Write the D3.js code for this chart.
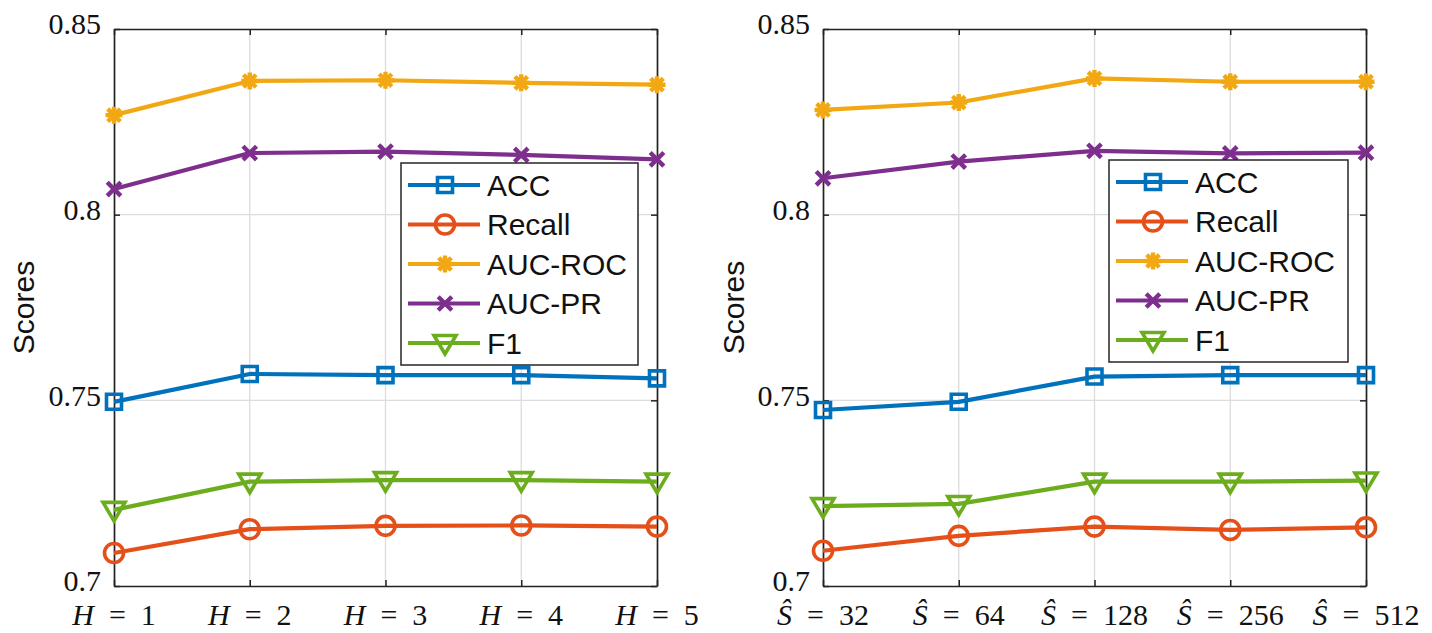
<!DOCTYPE html>
<html><head><meta charset="utf-8">
<script src="https://cdn.jsdelivr.net/npm/d3@7"></script>
<style>body{margin:0;background:#fff}</style></head>
<body><svg id="c" width="1432" height="633"></svg>
<script>
// ---------- data ----------
const seriesNames = ["ACC", "Recall", "AUC-ROC", "AUC-PR", "F1"];
const hValues = [1, 2, 3, 4, 5];
const sValues = [32, 64, 128, 256, 512];
const yTicks = [0.7, 0.75, 0.8, 0.85];
const yTickLabels = ["0.7", "0.75", "0.8", "0.85"];
const yLabel = "Scores";

const leftACC    = [0.7496, 0.7571, 0.7568, 0.7568, 0.7559];
const leftRecall = [0.7089, 0.7153, 0.7162, 0.7163, 0.7160];
const leftAUCROC = [0.8268, 0.8360, 0.8362, 0.8355, 0.8350];
const leftAUCPR  = [0.8069, 0.8166, 0.8170, 0.8161, 0.8149];
const leftF1     = [0.7205, 0.7281, 0.7285, 0.7285, 0.7281];

const rightACC    = [0.7474, 0.7496, 0.7564, 0.7568, 0.7568];
const rightRecall = [0.7095, 0.7135, 0.7160, 0.7151, 0.7158];
const rightAUCROC = [0.8282, 0.8302, 0.8367, 0.8358, 0.8358];
const rightAUCPR  = [0.8098, 0.8143, 0.8172, 0.8165, 0.8167];
const rightF1     = [0.7215, 0.7221, 0.7281, 0.7281, 0.7284];

// ---------- styles ----------
const colors = {"ACC":"#0072BD","Recall":"#E5501A","AUC-ROC":"#F2A812","AUC-PR":"#7E2F8E","F1":"#6CAD1E"};
const markerOf = {"ACC":"square","Recall":"circle","AUC-ROC":"asterisk","AUC-PR":"cross","F1":"triDown"};

function markerPath(type){
  switch(type){
    case "square": return "M-7.5,-7.5H7.5V7.5H-7.5Z";
    case "circle": return "M9.5,0A9.5,9.5 0 1,1 -9.5,0A9.5,9.5 0 1,1 9.5,0Z";
    case "asterisk": { const r=8.5,k=6.3; return `M0,${-r}V${r}M${-r},0H${r}M${-k},${-k}L${k},${k}M${-k},${k}L${k},${-k}`; }
    case "cross": { const k=6.8; return `M${-k},${-k}L${k},${k}M${-k},${k}L${k},${-k}`; }
    case "triDown": return "M-11,-7.5H11L0,11Z";
  }
}
function markerWidth(type){ return (type === "asterisk" || type === "cross") ? 4.4 : 3.6; }

const svg = d3.select("#c");
const plotTop = 29, plotBottom = 586;
const y = d3.scaleLinear().domain([0.7, 0.85]).range([plotBottom, plotTop]);

function panel(cfg){
  const {x0, x1, cats, labelFn, data, legend, yLabelX} = cfg;
  const x = d3.scalePoint().domain(cats).range([x0, x1]);
  const g = svg.append("g");

  // grid
  g.append("g").selectAll("line").data(cats.slice(1, -1)).join("line")
    .attr("x1", d => x(d)).attr("x2", d => x(d)).attr("y1", plotTop).attr("y2", plotBottom)
    .attr("stroke", "#dcdcdc").attr("stroke-width", 1.3);
  g.append("g").selectAll("line").data(yTicks.slice(1, -1)).join("line")
    .attr("x1", x0).attr("x2", x1).attr("y1", d => y(d)).attr("y2", d => y(d))
    .attr("stroke", "#dcdcdc").attr("stroke-width", 1.3);

  // axes
  const fmt = d => yTickLabels[yTicks.indexOf(d)];
  const ax = [
    g.append("g").attr("transform", `translate(${x0},0)`)
      .call(d3.axisLeft(y).tickValues(yTicks).tickSize(-6).tickSizeOuter(0).tickPadding(13).tickFormat(fmt)),
    g.append("g").attr("transform", `translate(${x1},0)`)
      .call(d3.axisRight(y).tickValues(yTicks).tickSize(-6).tickSizeOuter(0).tickFormat("")),
    g.append("g").attr("transform", `translate(0,${plotTop})`)
      .call(d3.axisTop(x).tickSize(-6).tickSizeOuter(0).tickFormat("")),
    g.append("g").attr("transform", `translate(0,${plotBottom})`)
      .call(d3.axisBottom(x).tickSize(-6).tickSizeOuter(0).tickFormat(""))
  ];
  ax.forEach(a => {
    a.select(".domain").attr("stroke", "#222").attr("stroke-width", 1.7);
    a.selectAll(".tick line").attr("stroke", "#222").attr("stroke-width", 1.5);
    a.selectAll(".tick text").attr("font-family", "'Liberation Serif', 'DejaVu Serif', serif")
      .attr("font-size", 30).attr("fill", "#111").attr("dy", "0.16em");
  });

  // x tick labels (math-style)
  const xl = g.append("g").selectAll("text").data(cats).join("text")
    .attr("x", d => x(d)).attr("y", 625).attr("text-anchor", "middle")
    .attr("font-family", "'Liberation Serif', 'DejaVu Serif', serif")
    .attr("font-size", 30).attr("fill", "#111");
  xl.append("tspan").attr("font-style", "italic").text(labelFn.sym);
  xl.append("tspan").text(d => "\u2002=\u2002" + d);

  // y label
  g.append("text").attr("transform", `translate(${yLabelX},${(plotTop + plotBottom) / 2}) rotate(-90)`)
    .attr("text-anchor", "middle").attr("font-family", "'Liberation Sans', Arial, sans-serif")
    .attr("font-size", 30).attr("fill", "#111").text(yLabel);

  // series
  const line = d3.line().x((d, i) => x(cats[i])).y(d => y(d));
  seriesNames.forEach(name => {
    const vals = data[name];
    g.append("path").datum(vals).attr("d", line).attr("fill", "none")
      .attr("stroke", colors[name]).attr("stroke-width", 4.2).attr("stroke-linejoin", "round");
    g.append("g").selectAll("path").data(vals).join("path")
      .attr("transform", (d, i) => `translate(${x(cats[i])},${y(d)})`)
      .attr("d", markerPath(markerOf[name])).attr("fill", "none")
      .attr("stroke", colors[name]).attr("stroke-width", markerWidth(markerOf[name]));
  });

  // legend
  const lg = g.append("g").attr("transform", `translate(${legend.x},${legend.y})`);
  lg.append("rect").attr("width", legend.w).attr("height", legend.h)
    .attr("fill", "#fff").attr("stroke", "#262626").attr("stroke-width", 1.5);
  const rows = lg.selectAll("g").data(seriesNames).join("g")
    .attr("transform", (d, i) => `translate(0,${22 + i * 39.5})`);
  rows.append("line").attr("x1", 7).attr("x2", 79).attr("stroke", d => colors[d]).attr("stroke-width", 4.2);
  rows.append("path").attr("transform", "translate(44,0)").attr("d", d => markerPath(markerOf[d]))
    .attr("fill", "none").attr("stroke", d => colors[d])
    .attr("stroke-width", d => markerWidth(markerOf[d]));
  rows.append("text").attr("x", 86).attr("dy", "0.36em")
    .attr("font-family", "'Liberation Sans', Arial, sans-serif").attr("font-size", 30).attr("fill", "#111")
    .text(d => d);
}

panel({
  x0: 114, x1: 657, cats: hValues, labelFn: {sym: "H"}, yLabelX: 34,
  data: {"ACC": leftACC, "Recall": leftRecall, "AUC-ROC": leftAUCROC, "AUC-PR": leftAUCPR, "F1": leftF1},
  legend: {x: 401, y: 163, w: 237, h: 202}
});
panel({
  x0: 823, x1: 1366, cats: sValues, labelFn: {sym: "\u015C"}, yLabelX: 744,
  data: {"ACC": rightACC, "Recall": rightRecall, "AUC-ROC": rightAUCROC, "AUC-PR": rightAUCPR, "F1": rightF1},
  legend: {x: 1109, y: 160, w: 239, h: 202}
});
</script></body></html>
